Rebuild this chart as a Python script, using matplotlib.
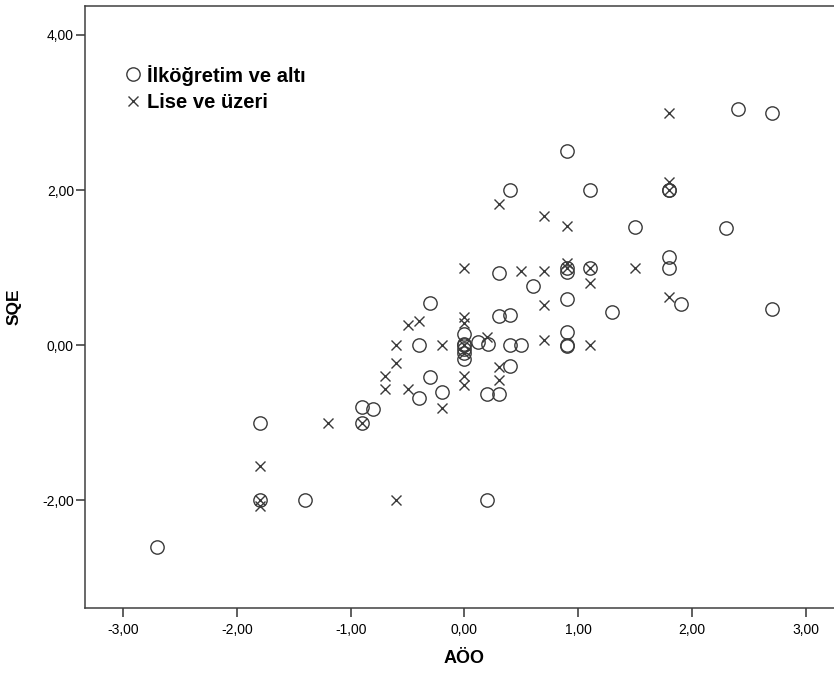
import matplotlib
matplotlib.use("Agg")
import matplotlib.pyplot as plt
from matplotlib.ticker import FuncFormatter, FixedLocator
from matplotlib.lines import Line2D

plt.rcParams['font.family'] = ['Liberation Sans', 'DejaVu Sans']

# İlköğretim ve altı (circles)
circ_x = [-2.7, -1.8, -1.8, -1.4, -0.9, -0.8, -0.9, -0.3, -0.4, -0.3, -0.4, -0.2,
          0.0, 0.0, 0.0, 0.0, 0.0, 0.0, 0.12, 0.21, 0.3, 0.4, 0.4, 0.5, 0.4, 0.2, 0.3,
          0.2, 0.3, 0.6, 0.4, 0.9, 1.1, 0.9, 0.9, 1.1, 0.9, 0.9, 0.9, 0.9, 1.3, 1.5,
          1.8, 1.8, 1.8, 1.8, 1.9, 2.3, 2.4, 2.7, 2.7]
circ_y = [-2.6, -1.0, -2.0, -2.0, -0.8, -0.82, -1.0, 0.54, 0.0, -0.41, -0.68, -0.6,
          0.15, 0.02, 0.0, -0.05, -0.1, -0.18, 0.04, 0.02, 0.38, 0.39, 0.0, 0.0, -0.27, -0.63, -0.63,
          -2.0, 0.93, 0.76, 2.0, 2.5, 2.0, 1.0, 0.94, 1.0, 0.59, 0.17, 0.0, -0.01, 0.43, 1.53,
          2.0, 2.0, 1.14, 1.0, 0.53, 1.51, 3.05, 3.0, 0.47]

# Lise ve üzeri (crosses)
cross_x = [-1.8, -1.8, -1.8, -1.2, -0.9, -0.6, -0.5, -0.4, -0.6, -0.2, -0.6, -0.7,
           -0.7, -0.5, -0.2, 0.0, 0.0, 0.0, 0.0, 0.0, 0.0, 0.0, 0.2, 0.3, 0.3, 0.3,
           0.5, 0.7, 0.7, 0.9, 0.9, 0.9, 1.1, 1.1, 0.7, 0.7, 1.1, 1.5, 1.8, 1.8, 1.8, 1.8]
cross_y = [-1.56, -2.0, -2.07, -1.0, -1.0, -2.0, 0.26, 0.31, 0.0, 0.0, -0.23, -0.4,
           -0.56, -0.57, -0.81, 1.0, 0.36, 0.29, 0.0, -0.1, -0.4, -0.52, 0.11, -0.28, -0.45, 1.82,
           0.95, 0.96, 1.66, 1.54, 1.0, 1.06, 1.0, 0.8, 0.52, 0.06, 0.0, 1.0, 3.0, 2.1, 2.0, 0.62]

x_ticks = [-3, -2, -1, 0, 1, 2, 3]
y_ticks = [-2, 0, 2, 4]
series_labels = ['İlköğretim ve altı', 'Lise ve üzeri']

W, H = 834, 675
fig = plt.figure(figsize=(W / 100, H / 100), dpi=100)
ax_left, ax_bottom_px, ax_top_px = 85, 608, 6
ax = fig.add_axes([ax_left / W, (H - ax_bottom_px) / H, 759 / W,
                   (ax_bottom_px - ax_top_px) / H])

edge = '#3a3a3a'
ax.plot(circ_x, circ_y, linestyle='none', marker='o', markersize=9.6,
        markerfacecolor='none', markeredgecolor=edge, markeredgewidth=1.0)
ax.plot(cross_x, cross_y, linestyle='none', marker='x', markersize=6.8,
        color=edge, markeredgewidth=1.0)

ax.set_xlim(-3.334, 3.334)
ax.set_ylim(-3.39, 4.374)
ax.xaxis.set_major_locator(FixedLocator(x_ticks))
ax.yaxis.set_major_locator(FixedLocator(y_ticks))
fmt = FuncFormatter(lambda v, p: f"{v:.2f}".replace('.', ','))
ax.xaxis.set_major_formatter(fmt)
ax.yaxis.set_major_formatter(fmt)
ax.tick_params(axis='both', direction='out', length=6.5, width=1.1, color='#333333',
               labelsize=10)
ax.tick_params(axis='x', pad=4)
ax.tick_params(axis='y', pad=1.5)
for s in ax.spines.values():
    s.set_color('#404040')
    s.set_linewidth(1.1)

ax.set_xlabel('AÖO', fontsize=13, fontweight='bold', labelpad=10)
ax.set_ylabel('SQE', fontsize=12.5, fontweight='bold', labelpad=15)

handles = [Line2D([], [], linestyle='none', marker='o', markersize=9.6,
                  markerfacecolor='none', markeredgecolor=edge, markeredgewidth=1.0),
           Line2D([], [], linestyle='none', marker='x', markersize=6.8,
                  color=edge, markeredgewidth=1.0)]
leg = ax.legend(handles, series_labels, loc='upper left', bbox_to_anchor=(0.037, 0.916),
                frameon=False, handletextpad=0.1, handlelength=1.2,
                labelspacing=0.38, borderaxespad=0.0,
                prop={'weight': 'bold', 'size': 14.5})

fig.savefig('out.png', dpi=100)
